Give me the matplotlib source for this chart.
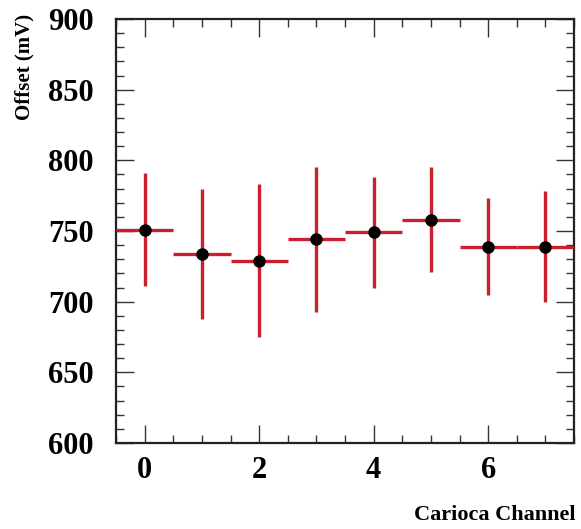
import matplotlib
matplotlib.use("Agg")
import matplotlib.pyplot as plt
from matplotlib.ticker import MultipleLocator

channels = [0, 1, 2, 3, 4, 5, 6, 7]
offset_mv = [751, 734, 729, 744, 749, 758, 739, 739]
offset_err = [40, 46, 54, 51, 39, 37, 34, 39]
bin_half_width = [0.5] * 8

plt.rcParams['font.family'] = ['Liberation Serif', 'DejaVu Serif']
plt.rcParams['font.weight'] = 'bold'

fig = plt.figure(figsize=(5.81, 5.29), dpi=100)
W, H = 581, 529
ax = fig.add_axes([116 / W, 1 - 443 / H, (574 - 116) / W, (443 - 19) / H])

ax.errorbar(channels, offset_mv, yerr=offset_err, xerr=bin_half_width,
            fmt='o', color='black', ecolor='#cc1f2e', elinewidth=2.4,
            capsize=0, markersize=8, zorder=3)

ax.set_xlim(-0.5, 7.5)
ax.set_ylim(600, 900)
ax.xaxis.set_major_locator(MultipleLocator(2))
ax.xaxis.set_minor_locator(MultipleLocator(0.5))
ax.yaxis.set_major_locator(MultipleLocator(50))
ax.yaxis.set_minor_locator(MultipleLocator(10))
ax.tick_params(which='both', direction='in', top=True, right=True, color='#333333')
ax.tick_params(which='major', length=13, width=1.0)
ax.tick_params(which='minor', length=6, width=1.0)
ax.tick_params(axis='y', which='major', labelsize=22, pad=16)
ax.tick_params(axis='x', which='major', labelsize=22, pad=9)
for lab in ax.get_xticklabels() + ax.get_yticklabels():
    lab.set_fontweight('bold')
for s in ax.spines.values():
    s.set_linewidth(1.6)
    s.set_color('#222222')

fig.text(575 / W, 1 - 515 / H, 'Carioca Channel', ha='right', va='center',
         fontsize=16, fontweight='bold')
fig.text(24 / W, 1 - 14 / H, 'Offset (mV)', ha='center', va='top', rotation=90,
         fontsize=15, fontweight='bold')

fig.savefig('out.png', dpi=100)
